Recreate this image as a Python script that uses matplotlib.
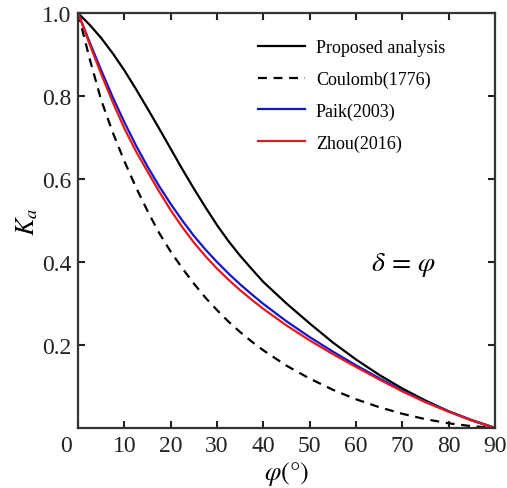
import matplotlib
matplotlib.use('Agg')
import matplotlib.pyplot as plt
import matplotlib.transforms as mtransforms

plt.rcParams['font.family'] = ['Liberation Serif', 'DejaVu Serif']
plt.rcParams['mathtext.fontset'] = 'stix'

# friction angle (deg)
phi = [0, 2.5, 5, 7.5, 10, 12.5, 15, 17.5, 20, 22.5, 25, 27.5, 30, 32.5, 35, 37.5,
       40, 45, 50, 55, 60, 65, 70, 75, 80, 85, 90]

# Ka values
ka_proposed = [1.0, 0.972, 0.94, 0.903, 0.862, 0.817, 0.77, 0.722, 0.673, 0.624,
               0.577, 0.532, 0.489, 0.45, 0.415, 0.383, 0.352,
               0.30, 0.252, 0.206, 0.165, 0.128, 0.095, 0.066, 0.04, 0.018, 0.0]
ka_coulomb = [1.0, 0.89, 0.79, 0.712, 0.643, 0.58, 0.523, 0.47, 0.425, 0.385,
              0.348, 0.314, 0.284, 0.256, 0.231, 0.208, 0.187,
              0.15, 0.119, 0.092, 0.069, 0.05, 0.034, 0.021, 0.011, 0.004, 0.0]
ka_paik = [1.0, 0.93, 0.862, 0.797, 0.737, 0.681, 0.63, 0.583, 0.54, 0.5,
           0.463, 0.43, 0.4, 0.372, 0.346, 0.322, 0.299,
           0.257, 0.219, 0.184, 0.151, 0.12, 0.09, 0.063, 0.04, 0.019, 0.0]
ka_zhou = [1.0, 0.925, 0.853, 0.785, 0.722, 0.667, 0.618, 0.57, 0.525, 0.484,
           0.447, 0.414, 0.384, 0.357, 0.332, 0.309, 0.287,
           0.247, 0.211, 0.178, 0.147, 0.117, 0.088, 0.062, 0.039, 0.018, 0.0]

x_ticks = [0, 10, 20, 30, 40, 50, 60, 70, 80, 90]
y_ticks = [0.2, 0.4, 0.6, 0.8, 1.0]

fig = plt.figure(figsize=(5.07, 4.89), dpi=100)
ax = fig.add_axes([0.154, 0.123, 0.822, 0.848])

lw = 1.6
ax.plot(phi, ka_proposed, color='black', lw=lw, label='Proposed analysis')
ax.plot(phi, ka_coulomb, color='black', lw=lw, ls=(0, (4, 3)), label='Coulomb(1776)')
ax.plot(phi, ka_paik, color='#1414c8', lw=lw, label='Paik(2003)')
ax.plot(phi, ka_zhou, color='#e41a1a', lw=lw, label='Zhou(2016)')

ax.set_xlim(0, 90)
ax.set_ylim(0, 1.0)
ax.set_xticks(x_ticks)
ax.set_yticks(y_ticks)
ax.set_xticklabels([str(t) for t in x_ticks])
ax.set_yticklabels(['%.1f' % t for t in y_ticks])

ax.tick_params(direction='in', length=5, width=1.5, top=True, right=True,
               labelsize=17, colors='#222222', pad=5)
for sp in ax.spines.values():
    sp.set_linewidth(1.6)
    sp.set_color('#333333')

# shift the origin label a bit to the left
lab0 = ax.get_xticklabels()[0]
lab0.set_transform(lab0.get_transform() +
                   mtransforms.ScaledTranslation(-12 / 100, 0, fig.dpi_scale_trans))

ax.set_xlabel(r'$\varphi(°)$', fontsize=19, labelpad=2)
ax.set_ylabel(r'$K_a$', fontsize=19, labelpad=1)

ax.text(0.78, 0.395, r'$\delta\,=\,\varphi$', transform=ax.transAxes,
        fontsize=20, ha='center', va='center')

ax.legend(loc='upper left', bbox_to_anchor=(0.432, 0.937), frameon=False,
          fontsize=13, handlelength=2.6, handletextpad=0.6, labelspacing=0.8,
          borderaxespad=0, borderpad=0)

plt.savefig('out.png', dpi=100)
